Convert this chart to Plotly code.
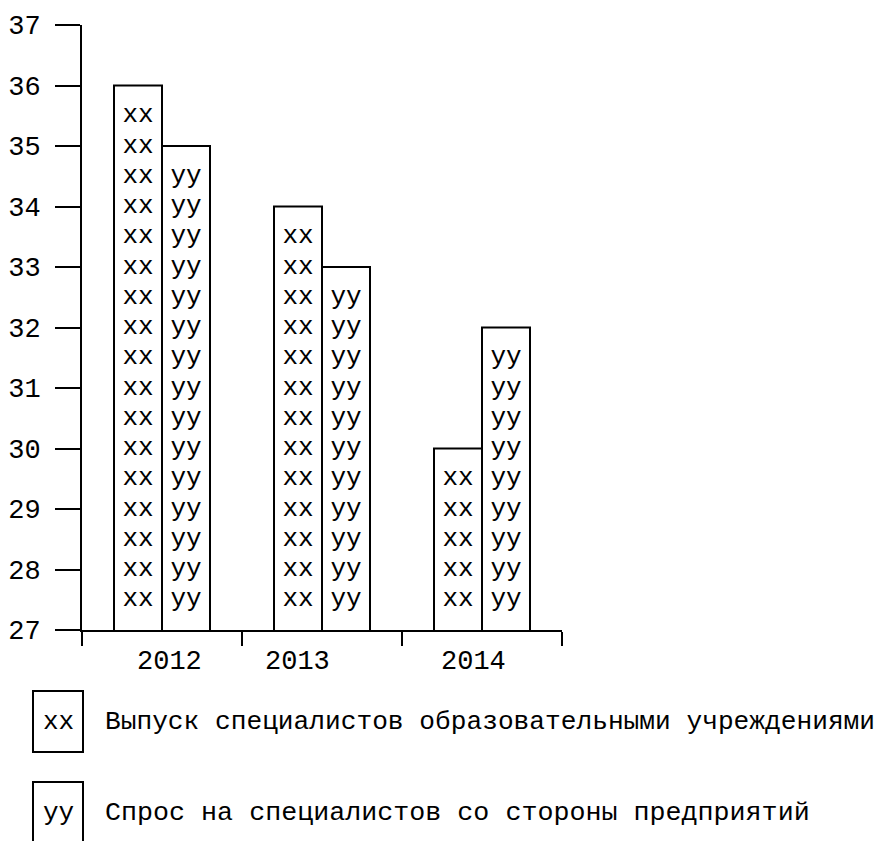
import plotly.graph_objects as go

# ---- data ----
years = ["2012", "2013", "2014"]
graduates = [36, 34, 30]      # Выпуск специалистов образовательными учреждениями
demand = [35, 33, 32]         # Спрос на специалистов со стороны предприятий
series_names = ["Выпуск специалистов образовательными учреждениями",
                "Спрос на специалистов со стороны предприятий"]
fill_texts = ["xx", "yy"]
y_min, y_max = 27, 37

FONT = "Liberation Mono"
OFF = 8                      # default page body margin
W, H = 894 - OFF, 841 - OFF
# plot area in page pixels
PL, PR, PT, PB = 82, 562, 25, 630
L, T = PL - OFF, PT - OFF
R, B = W - (PR - OFF), H - (PB - OFF)
PW, PH = PR - PL, PB - PT


def px(x):
    return (x - PL) / PW


def py(y):
    return (PB - y) / PH


fig = go.Figure()

for i, (vals, txt) in enumerate(zip([graduates, demand], fill_texts)):
    og = str(i + 1)
    fig.add_trace(go.Bar(
        x=years, y=vals, offsetgroup=og, name=series_names[i],
        marker=dict(color="white", line=dict(color="black", width=2)),
        showlegend=False, hoverinfo="skip",
    ))
    xs, ys = [], []
    for yr, v in zip(years, vals):
        k = v - 0.5
        while k >= y_min + 0.5 - 1e-9:
            xs.append(yr)
            ys.append(k)
            k -= 0.5
    fig.add_trace(go.Scatter(
        x=xs, y=ys, mode="text", text=[txt] * len(xs), offsetgroup=og,
        textfont=dict(family=FONT, size=26, color="black"),
        showlegend=False, hoverinfo="skip",
    ))

# category labels (slightly shifted like the reference)
label_shift = [7, -25, -9]
annotations = []
for idx, yr in enumerate(years):
    annotations.append(dict(
        x=idx, y=py(662), xref="x", yref="paper", text=yr, showarrow=False,
        xshift=label_shift[idx], font=dict(family=FONT, size=27, color="black"),
        xanchor="center", yanchor="middle",
    ))

# custom legend
shapes = []
legend_rows = [(691, 752), (782, 843)]
legend_sizes = [26.2, 26.7]
for (top, bot), txt, name, fs in zip(legend_rows, fill_texts, series_names, legend_sizes):
    shapes.append(dict(type="rect", xref="paper", yref="paper",
                       x0=px(33), x1=px(83), y0=py(bot), y1=py(top),
                       line=dict(color="black", width=2), fillcolor="white"))
    mid = (top + bot) / 2
    annotations.append(dict(x=px(58), y=py(mid), xref="paper", yref="paper",
                            text=txt, showarrow=False, xanchor="center", yanchor="middle",
                            font=dict(family=FONT, size=26, color="black")))
    annotations.append(dict(x=px(103), y=py(mid), xref="paper", yref="paper",
                            text=name, showarrow=False, xanchor="left", yanchor="middle",
                            font=dict(family=FONT, size=fs, color="black")))

fig.update_layout(
    width=W, height=H,
    margin=dict(l=L, r=R, t=T, b=B, pad=0, autoexpand=False),
    paper_bgcolor="white", plot_bgcolor="white",
    barmode="group", bargap=0.4, bargroupgap=0,
    scattermode="group", scattergap=0.4,
    font=dict(family=FONT, size=27, color="black"),
    showlegend=False,
    shapes=shapes, annotations=annotations,
    xaxis=dict(
        type="category", range=[-0.5, len(years) - 0.5], automargin=False,
        showline=True, linecolor="black", linewidth=2,
        ticks="outside", ticklen=14, tickwidth=2, tickcolor="black",
        tickson="boundaries", showticklabels=False, showgrid=False,
        zeroline=False, fixedrange=True,
    ),
    yaxis=dict(
        range=[y_min, y_max], dtick=1, tick0=y_min, automargin=False,
        showline=True, linecolor="black", linewidth=2,
        ticks="outside", ticklen=25, tickwidth=2, tickcolor="black",
        ticklabelstandoff=9, showgrid=False, zeroline=False,
        tickfont=dict(family=FONT, size=27, color="black"), fixedrange=True,
    ),
)

fig.write_html("out.html")
